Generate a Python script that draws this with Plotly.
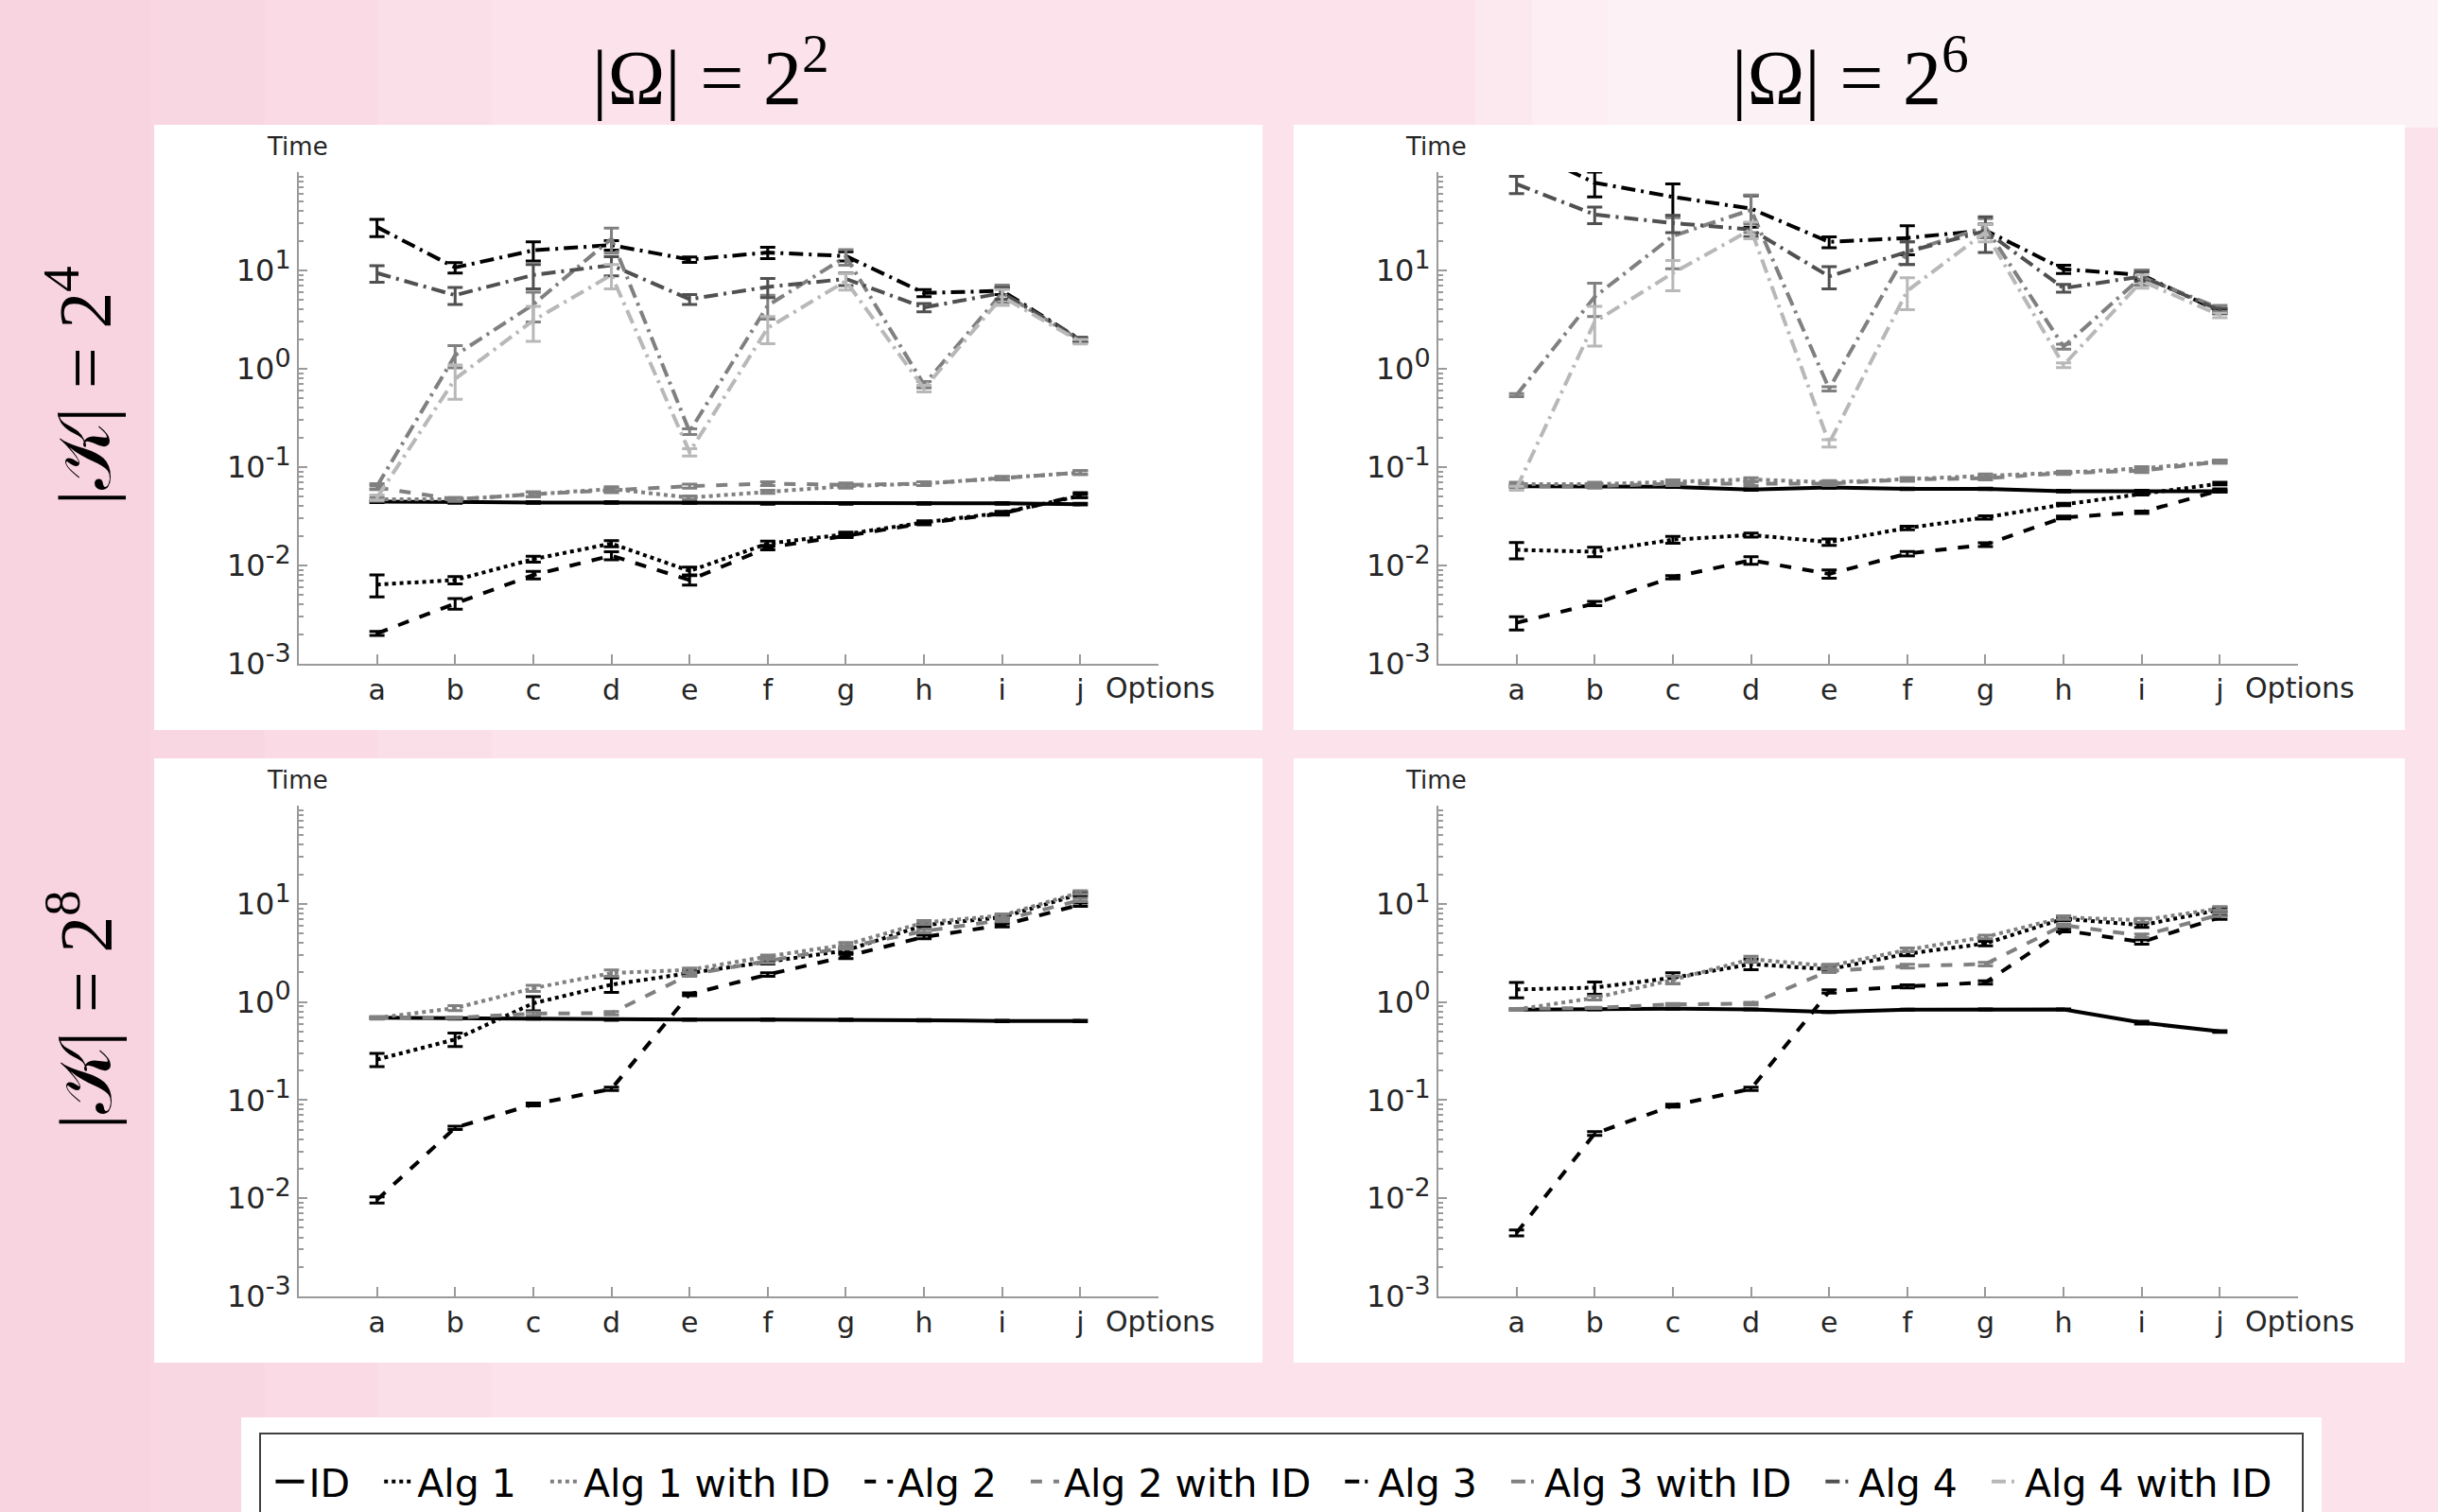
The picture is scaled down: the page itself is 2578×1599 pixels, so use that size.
import plotly.graph_objects as go

categories = ["a", "b", "c", "d", "e", "f", "g", "h", "i", "j"]
series_names = ["ID", "Alg 1", "Alg 1 with ID", "Alg 2", "Alg 2 with ID",
                "Alg 3", "Alg 3 with ID", "Alg 4", "Alg 4 with ID"]
y_tick_vals = [1e-3, 1e-2, 1e-1, 1, 10, 100]
y_tick_exps = ["-3", "-2", "-1", "0", "1", ""]

# ---- top-left: |K| = 2^4, |Omega| = 2^2
tl_id = [0.0445, 0.0437, 0.0437, 0.0437, 0.0437, 0.0428, 0.0428, 0.0428, 0.0428, 0.0420]
tl_id_err = [0.0008, 0.0008, 0.0008, 0.0008, 0.0008, 0.0008, 0.0008, 0.0008, 0.0008, 0.0008]
tl_alg1 = [0.0064, 0.0071, 0.0116, 0.0167, 0.0088, 0.0167, 0.0208, 0.0274, 0.0344, 0.051]
tl_alg1_err = [0.0016, 0.0006, 0.0008, 0.0012, 0.0008, 0.0010, 0.0010, 0.0010, 0.0012, 0.0020]
tl_alg1id = [0.047, 0.047, 0.053, 0.060, 0.049, 0.056, 0.064, 0.068, 0.077, 0.088]
tl_alg1id_err = [0.002, 0.002, 0.003, 0.003, 0.002, 0.002, 0.003, 0.003, 0.003, 0.004]
tl_alg2 = [0.00204, 0.0041, 0.0080, 0.0126, 0.0071, 0.0152, 0.0200, 0.0269, 0.0338, 0.052]
tl_alg2_err = [0.0001, 0.0005, 0.0007, 0.0012, 0.0008, 0.0008, 0.0008, 0.0010, 0.0012, 0.0030]
tl_alg2id = [0.062, 0.047, 0.053, 0.058, 0.064, 0.068, 0.066, 0.068, 0.077, 0.088]
tl_alg2id_err = [0.003, 0.002, 0.003, 0.003, 0.003, 0.003, 0.003, 0.003, 0.003, 0.004]
tl_alg3 = [27.6, 10.7, 16.0, 18.1, 12.9, 15.2, 14.0, 5.9, 6.2, 1.98]
tl_alg3_err = [5.5, 1.3, 3.5, 2.0, 0.8, 2.0, 1.5, 0.5, 0.5, 0.1]
tl_alg3id = [0.064, 1.37, 4.5, 21.0, 0.23, 4.4, 13.8, 0.69, 5.9, 1.95]
tl_alg3id_err = [0.004, 0.35, 1.5, 6.0, 0.015, 1.2, 2.5, 0.05, 1.2, 0.1]
tl_alg4 = [9.4, 5.6, 9.0, 11.3, 5.1, 6.8, 8.2, 4.2, 5.9, 1.98]
tl_alg4_err = [1.8, 1.1, 2.5, 2.5, 0.6, 1.5, 1.2, 0.4, 0.8, 0.1]
tl_alg4id = [0.049, 0.79, 3.1, 9.0, 0.142, 2.6, 7.8, 0.63, 5.4, 1.89]
tl_alg4id_err = [0.003, 0.3, 1.2, 2.5, 0.012, 0.8, 1.5, 0.05, 1.0, 0.1]

# ---- top-right: |K| = 2^4, |Omega| = 2^6
tr_id = [0.064, 0.063, 0.063, 0.059, 0.062, 0.060, 0.060, 0.057, 0.057, 0.057]
tr_id_err = [0.001, 0.001, 0.001, 0.001, 0.001, 0.001, 0.001, 0.001, 0.001, 0.001]
tr_alg1 = [0.0144, 0.0138, 0.0183, 0.0204, 0.0173, 0.0241, 0.0308, 0.0417, 0.0533, 0.068]
tr_alg1_err = [0.0027, 0.0015, 0.0015, 0.0010, 0.0013, 0.0010, 0.0012, 0.0012, 0.0012, 0.0020]
tr_alg1id = [0.067, 0.067, 0.071, 0.075, 0.070, 0.075, 0.082, 0.088, 0.097, 0.114]
tr_alg1id_err = [0.003, 0.003, 0.003, 0.003, 0.003, 0.003, 0.003, 0.003, 0.004, 0.004]
tr_alg2 = [0.00261, 0.0041, 0.0076, 0.0113, 0.0082, 0.0132, 0.0163, 0.0308, 0.0348, 0.058]
tr_alg2_err = [0.0004, 0.0002, 0.0003, 0.0010, 0.0008, 0.0007, 0.0007, 0.0010, 0.0010, 0.0020]
tr_alg2id = [0.064, 0.064, 0.068, 0.068, 0.068, 0.075, 0.077, 0.087, 0.092, 0.114]
tr_alg2id_err = [0.003, 0.003, 0.003, 0.003, 0.003, 0.003, 0.003, 0.003, 0.004, 0.004]
tr_alg3 = [185, 78, 56, 42.5, 19.5, 21.4, 25.6, 10.3, 9.0, 3.83]
tr_alg3_err = [30, 22, 20, 15, 2.5, 7, 4, 1.0, 1.0, 0.2]
tr_alg3id = [0.54, 5.4, 22.4, 41.3, 0.625, 15.5, 27.6, 1.68, 8.6, 4.12]
tr_alg3id_err = [0.02, 2.0, 12, 17, 0.03, 4, 6, 0.1, 1.5, 0.3]
tr_alg4 = [75.5, 37, 30.3, 26.1, 8.7, 15.5, 25.2, 6.6, 8.7, 3.93]
tr_alg4_err = [15, 7, 6, 4, 2.2, 4, 10, 0.6, 1.0, 0.2]
tr_alg4id = [0.061, 3.0, 9.4, 26, 0.175, 6.2, 24.5, 1.09, 7.8, 3.5]
tr_alg4id_err = [0.003, 1.3, 3.2, 5, 0.015, 2.2, 5, 0.06, 1.2, 0.2]

# ---- bottom-left: |K| = 2^8, |Omega| = 2^2
bl_id = [0.69, 0.68, 0.68, 0.66, 0.66, 0.66, 0.66, 0.65, 0.64, 0.64]
bl_id_err = [0.01, 0.01, 0.01, 0.01, 0.01, 0.01, 0.01, 0.01, 0.01, 0.01]
bl_alg1 = [0.259, 0.416, 0.97, 1.5, 1.97, 2.54, 3.34, 6.05, 7.3, 12.6]
bl_alg1_err = [0.04, 0.065, 0.16, 0.25, 0.1, 0.1, 0.15, 0.2, 0.3, 0.5]
bl_alg1id = [0.69, 0.865, 1.38, 1.97, 2.12, 2.91, 3.83, 6.45, 7.6, 13.1]
bl_alg1id_err = [0.02, 0.05, 0.1, 0.15, 0.1, 0.1, 0.2, 0.3, 0.3, 0.5]
bl_alg2 = [0.00964, 0.0523, 0.0904, 0.130, 1.2, 1.9, 2.91, 4.6, 6.05, 9.8]
bl_alg2_err = [0.0007, 0.002, 0.003, 0.005, 0.04, 0.08, 0.15, 0.2, 0.25, 0.4]
bl_alg2id = [0.69, 0.69, 0.76, 0.77, 1.9, 2.59, 3.6, 5.27, 6.8, 10.9]
bl_alg2id_err = [0.01, 0.01, 0.03, 0.03, 0.08, 0.1, 0.15, 0.2, 0.25, 0.4]

# ---- bottom-right: |K| = 2^8, |Omega| = 2^6
br_id = [0.834, 0.84, 0.855, 0.84, 0.79, 0.834, 0.84, 0.84, 0.616, 0.50]
br_id_err = [0.01, 0.01, 0.01, 0.01, 0.01, 0.01, 0.01, 0.01, 0.02, 0.01]
br_alg1 = [1.34, 1.4, 1.76, 2.43, 2.15, 3.1, 3.94, 7.06, 6.05, 8.7]
br_alg1_err = [0.24, 0.2, 0.22, 0.3, 0.1, 0.15, 0.2, 0.3, 0.3, 0.4]
br_alg1id = [0.84, 1.1, 1.68, 2.73, 2.32, 3.4, 4.6, 7.26, 6.8, 8.96]
br_alg1id_err = [0.02, 0.05, 0.15, 0.2, 0.1, 0.15, 0.2, 0.3, 0.3, 0.4]
br_alg2 = [0.00444, 0.0456, 0.0879, 0.130, 1.28, 1.44, 1.58, 5.37, 4.08, 7.26]
br_alg2_err = [0.0003, 0.002, 0.003, 0.005, 0.05, 0.05, 0.06, 0.2, 0.2, 0.3]
br_alg2id = [0.85, 0.87, 0.946, 0.96, 2.07, 2.32, 2.43, 6.05, 4.73, 7.74]
br_alg2id_err = [0.01, 0.01, 0.02, 0.03, 0.08, 0.1, 0.1, 0.2, 0.2, 0.3]

# ---------------- styles ----------------
DASHDOT = "15px,6px,3px,6px"
styles = {
    "ID": dict(color="#000000", dash="solid"),
    "Alg 1": dict(color="#000000", dash="dot"),
    "Alg 1 with ID": dict(color="#808080", dash="dot"),
    "Alg 2": dict(color="#000000", dash="dash"),
    "Alg 2 with ID": dict(color="#808080", dash="dash"),
    "Alg 3": dict(color="#000000", dash=DASHDOT),
    "Alg 3 with ID": dict(color="#808080", dash=DASHDOT),
    "Alg 4": dict(color="#505050", dash=DASHDOT),
    "Alg 4 with ID": dict(color="#b8b8b8", dash=DASHDOT),
}

panels = [
    ("x", "y", [(tl_id, tl_id_err), (tl_alg1, tl_alg1_err), (tl_alg1id, tl_alg1id_err),
                (tl_alg2, tl_alg2_err), (tl_alg2id, tl_alg2id_err), (tl_alg3, tl_alg3_err),
                (tl_alg3id, tl_alg3id_err), (tl_alg4, tl_alg4_err), (tl_alg4id, tl_alg4id_err)]),
    ("x2", "y2", [(tr_id, tr_id_err), (tr_alg1, tr_alg1_err), (tr_alg1id, tr_alg1id_err),
                  (tr_alg2, tr_alg2_err), (tr_alg2id, tr_alg2id_err), (tr_alg3, tr_alg3_err),
                  (tr_alg3id, tr_alg3id_err), (tr_alg4, tr_alg4_err), (tr_alg4id, tr_alg4id_err)]),
    ("x3", "y3", [(bl_id, bl_id_err), (bl_alg1, bl_alg1_err), (bl_alg1id, bl_alg1id_err),
                  (bl_alg2, bl_alg2_err), (bl_alg2id, bl_alg2id_err)]),
    ("x4", "y4", [(br_id, br_id_err), (br_alg1, br_alg1_err), (br_alg1id, br_alg1id_err),
                  (br_alg2, br_alg2_err), (br_alg2id, br_alg2id_err)]),
]

NBSP = "\u00a0"
xs = list(range(len(categories)))
fig = go.Figure()
for pi, (xa, ya, series) in enumerate(panels):
    for si, (vals, errs) in enumerate(series):
        name = series_names[si]
        st = styles[name]
        fig.add_trace(go.Scatter(
            x=xs, y=vals, name=name + NBSP * 2, mode="lines", xaxis=xa, yaxis=ya,
            line=dict(color=st["color"], dash=st["dash"], width=4),
            error_y=dict(type="data", array=errs, visible=True, color=st["color"],
                         thickness=3, width=8),
            showlegend=(pi == 0), legendrank=si,
        ))

GRAY = "#9a9a9a"
TICK_FONT = dict(family="DejaVu Sans", size=30, color="#262626")
y_tick_text = [("10<sup><span style='font-size:27px'>%s</span></sup>" % e) if e else ""
               for e in y_tick_exps]
minor_vals = [m * 10.0 ** k for k in range(-3, 2) for m in range(2, 10)]
xcommon = dict(range=[-1, 10], tickmode="array", tickvals=list(range(11)),
               ticktext=categories + [""], ticks="inside", ticklen=10, tickwidth=2,
               tickcolor=GRAY, showline=True, linecolor=GRAY, linewidth=2,
               showgrid=False, zeroline=False, tickfont=TICK_FONT)
ycommon = dict(type="log", range=[-3, 2], tickmode="array", tickvals=y_tick_vals,
               ticktext=y_tick_text, ticks="inside", ticklen=9, tickwidth=2,
               tickcolor=GRAY, showline=True, linecolor=GRAY, linewidth=2,
               showgrid=False, zeroline=False, tickfont=dict(TICK_FONT, size=32),
               minor=dict(tickmode="array", tickvals=minor_vals, ticks="inside",
                          ticklen=5, tickwidth=1.5, tickcolor=GRAY, showgrid=False))

W, H = 2578, 1599
xl = [316 / W, 1225 / W]
xr = [1521 / W, 2430 / W]
yt = [1 - 702 / H, 1 - 182 / H]
yb = [1 - 1371 / H, 1 - 852 / H]

fig.update_layout(
    xaxis=dict(domain=xl, anchor="y", **xcommon),
    yaxis=dict(domain=yt, anchor="x", **ycommon),
    xaxis2=dict(domain=xr, anchor="y2", **xcommon),
    yaxis2=dict(domain=yt, anchor="x2", **ycommon),
    xaxis3=dict(domain=xl, anchor="y3", **xcommon),
    yaxis3=dict(domain=yb, anchor="x3", **ycommon),
    xaxis4=dict(domain=xr, anchor="y4", **xcommon),
    yaxis4=dict(domain=yb, anchor="x4", **ycommon),
)

shapes = []
# soft background tint variations
for w in [520, 400, 280, 160]:
    shapes.append(dict(type="rect", xref="paper", yref="paper", x0=0, x1=w / W, y0=0, y1=1,
                       fillcolor="rgba(240,170,195,0.07)", line=dict(width=0), layer="below"))
for x0 in [1560, 1620, 1700]:
    shapes.append(dict(type="rect", xref="paper", yref="paper", x0=x0 / W, x1=1, y0=1 - 135 / H,
                       y1=1, fillcolor="rgba(255,255,255,0.22)", line=dict(width=0), layer="below"))
# white panels
for (x0, x1, y0, y1) in [(163, 1335, 132, 772), (1368, 2543, 132, 772),
                         (163, 1335, 802, 1441), (1368, 2543, 802, 1441),
                         (255, 2455, 1499, 1610)]:
    shapes.append(dict(type="rect", xref="paper", yref="paper", x0=x0 / W, x1=x1 / W,
                       y0=1 - y1 / H, y1=1 - y0 / H, fillcolor="white",
                       line=dict(width=0), layer="below"))
# legend border
shapes.append(dict(type="rect", xref="paper", yref="paper", x0=275 / W, x1=2435 / W,
                   y0=1 - 1620 / H, y1=1 - 1516 / H, fillcolor="rgba(0,0,0,0)",
                   line=dict(width=2, color="#404040"), layer="below"))

annotations = []
for (xd, yd) in [(xl, yt), (xr, yt), (xl, yb), (xr, yb)]:
    annotations.append(dict(text="Time", xref="paper", yref="paper", x=xd[0] - 2 / W,
                            y=yd[1] + 27 / H, xanchor="center", yanchor="middle",
                            showarrow=False, font=dict(family="DejaVu Sans", size=26, color="#262626")))
    annotations.append(dict(text="Options", xref="paper", yref="paper", x=xd[1] - 58 / W,
                            y=yd[0] - 26 / H, xanchor="left", yanchor="middle",
                            showarrow=False, font=TICK_FONT))

TITLE_FONT = dict(family="Liberation Serif, DejaVu Serif, serif", size=82, color="#000000")
ROW_FONT = dict(family="Liberation Serif, DejaVu Serif, serif", size=78, color="#000000")
annotations.append(dict(text="|Ω| = 2<sup>2</sup>", xref="paper", yref="paper", x=751 / W,
                        y=1 - 76 / H, xanchor="center", yanchor="middle",
                        showarrow=False, font=TITLE_FONT))
annotations.append(dict(text="|Ω| = 2<sup>6</sup>", xref="paper", yref="paper", x=1956 / W,
                        y=1 - 76 / H, xanchor="center", yanchor="middle",
                        showarrow=False, font=TITLE_FONT))
annotations.append(dict(text="|𝒦| = 2<sup>4</sup>", xref="paper", yref="paper", x=84 / W,
                        y=1 - 408 / H, xanchor="center", yanchor="middle",
                        showarrow=False, textangle=-90, font=ROW_FONT))
annotations.append(dict(text="|𝒦| = 2<sup>8</sup>", xref="paper", yref="paper", x=84 / W,
                        y=1 - 1068 / H, xanchor="center", yanchor="middle",
                        showarrow=False, textangle=-90, font=ROW_FONT))

fig.update_layout(
    width=W, height=H, margin=dict(l=0, r=0, t=0, b=0, autoexpand=False),
    paper_bgcolor="#fce3eb", plot_bgcolor="white",
    shapes=shapes, annotations=annotations,
    legend=dict(orientation="h", x=1360 / W, xanchor="center", y=1 - 1567 / H,
                yanchor="middle", bgcolor="rgba(0,0,0,0)", borderwidth=0,
                font=dict(family="DejaVu Sans", size=41, color="#000000"),
                itemwidth=30, traceorder="normal"),
    showlegend=True,
)

fig.write_html("out.html", config={"displayModeBar": False},
               post_script="document.body.style.margin='0';")
